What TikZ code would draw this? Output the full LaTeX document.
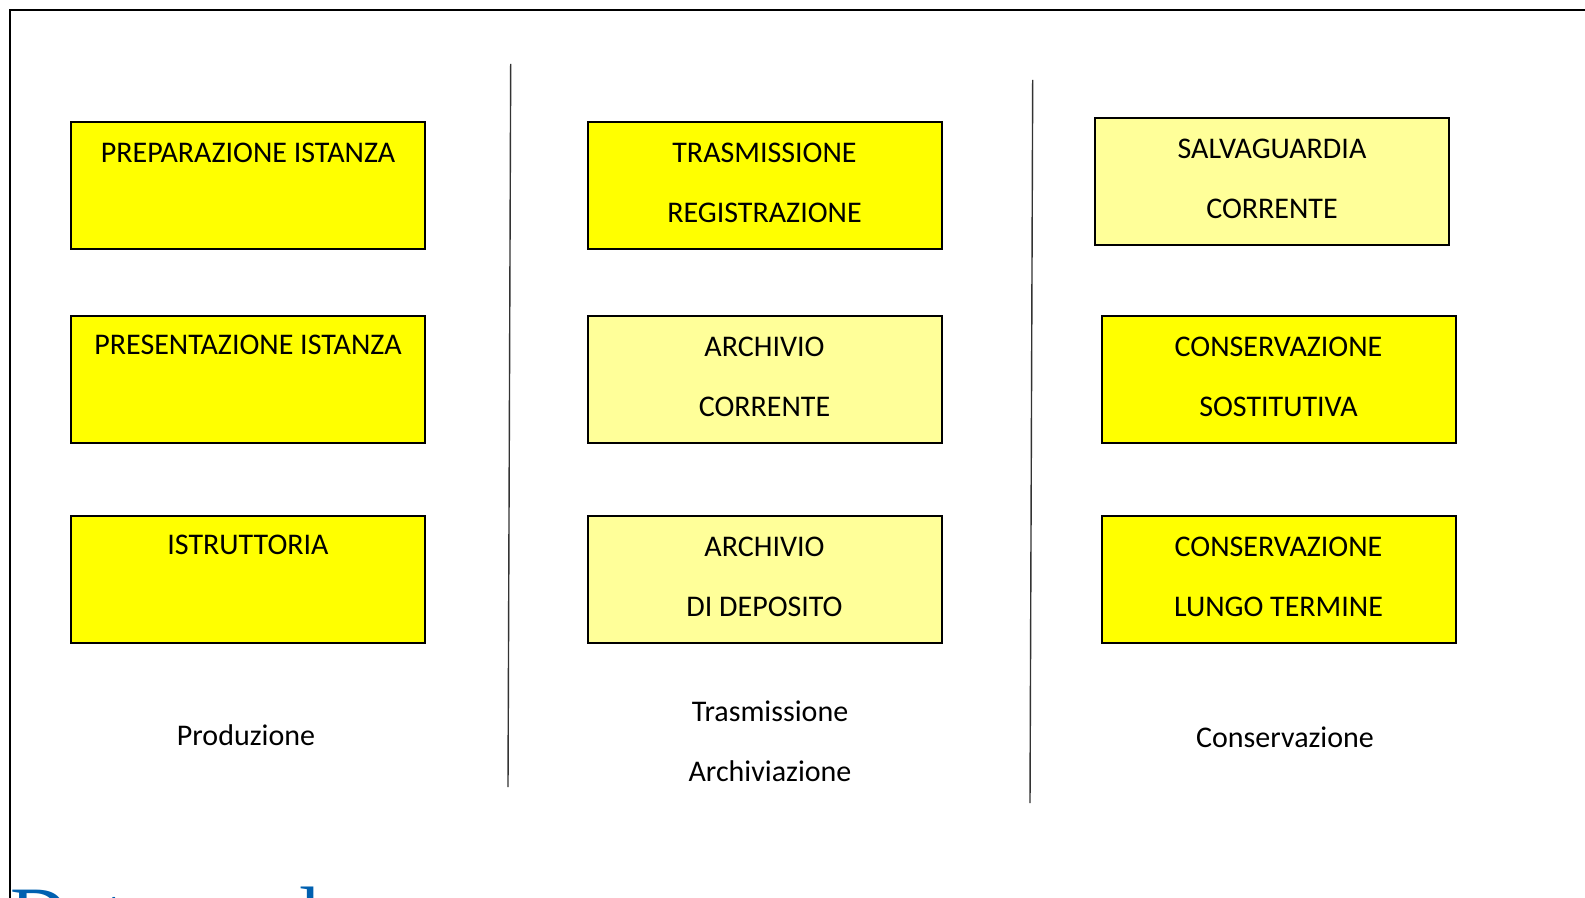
\documentclass[tikz,border=0pt]{standalone}
\usepackage{fontspec}
\setmainfont{Carlito}
\newfontfamily\titlefont{Liberation Serif}
\definecolor{giallo}{HTML}{FFFF00}
\definecolor{giallochiaro}{HTML}{FFFF99}
\definecolor{bluetitolo}{HTML}{0060B0}
\tikzset{
  fase/.style={draw,line width=1pt,fill=giallo,minimum width=177pt,minimum height=63.5pt,inner sep=0pt},
  fasechiara/.style={fase,fill=giallochiaro},
  voce/.style={align=center,inner sep=0pt,font={\fontsize{15pt}{30pt}\selectfont}},
  divisore/.style={line width=.7pt,black!80}
}
\begin{document}
\begin{tikzpicture}[x=0.5pt,y=-0.5pt]
\useasboundingbox (0,0) rectangle (1585,898);
% cornice
\draw[line width=1pt] (1585,10) -- (10,10) -- (10,898);
% produzione
\node[fase] (prep) at (248,185.5) {};
\node[voce] (prept) at (248,153) {PREPARAZIONE ISTANZA};
\node[fase] (pres) at (248,379.5) {};
\node[voce] (prest) at (248,345) {PRESENTAZIONE ISTANZA};
\node[fase] (istr) at (248,579.5) {};
\node[voce] (istrt) at (248,545) {ISTRUTTORIA};
\node[voce] (prod) at (246,735) {Produzione};
% trasmissione
\node[fase] (tras) at (764.5,185.5) {};
\node[voce] (trast) at (764.5,183) {TRASMISSIONE\\REGISTRAZIONE};
\node[fasechiara] (corr) at (764.5,379.5) {};
\node[voce] (corrt) at (764.5,377) {ARCHIVIO\\CORRENTE};
\node[fasechiara] (depo) at (764.5,579.5) {};
\node[voce] (depot) at (764.5,577) {ARCHIVIO\\DI DEPOSITO};
\node[voce] (trasarch) at (770,741) {Trasmissione\\Archiviazione};
% conservazione
\node[fasechiara] (salv) at (1272,181.5) {};
\node[voce] (salvt) at (1272,179) {SALVAGUARDIA\\CORRENTE};
\node[fase] (sost) at (1278.5,379.5) {};
\node[voce] (sostt) at (1278.5,377) {CONSERVAZIONE\\SOSTITUTIVA};
\node[fase] (lung) at (1278.5,579.5) {};
\node[voce] (lungt) at (1278.5,577) {CONSERVAZIONE\\LUNGO TERMINE};
\node[voce] (cons) at (1285,737) {Conservazione};
% divisori
\draw[divisore] (510.7,64) -- (508,787);
\draw[divisore] (1032.7,80) -- (1030,803);
% titolo tagliato
\node[anchor=base west,inner sep=0pt,text=bluetitolo,font={\titlefont\fontsize{40pt}{44pt}\selectfont}] (titolo) at (10,942) {Data e rel};
\end{tikzpicture}
\end{document}
